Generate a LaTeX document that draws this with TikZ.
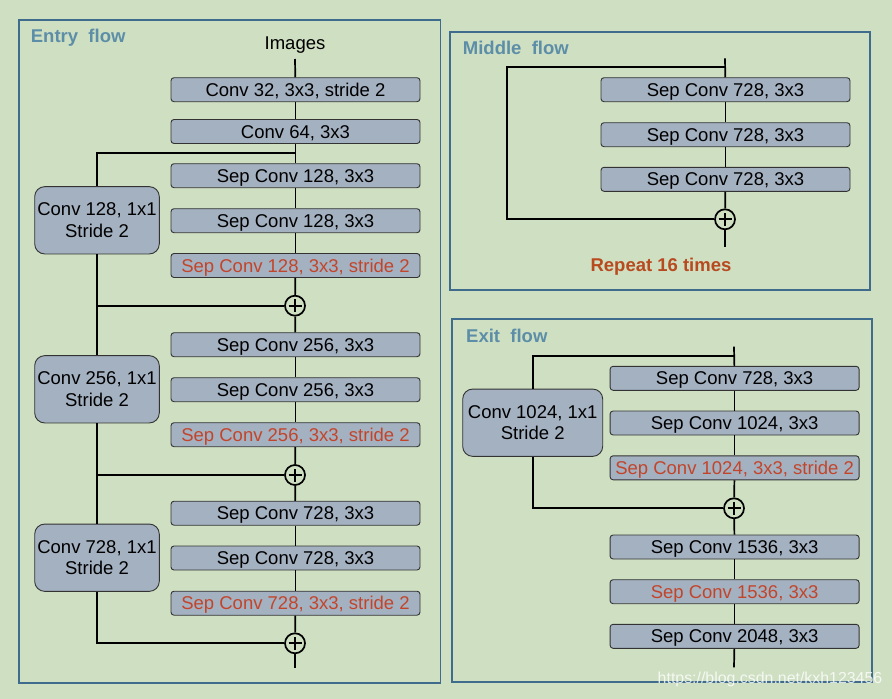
\documentclass[tikz,border=0pt]{standalone}
\usepackage{fontspec}
\setmainfont{Liberation Sans}
\definecolor{bg}{HTML}{CFDFC2}
\definecolor{boxfill}{HTML}{A4B1C1}
\definecolor{panelblue}{HTML}{3F6B8C}
\definecolor{labelblue}{HTML}{5D8EA8}
\definecolor{redtxt}{HTML}{C2452B}
\definecolor{reptxt}{HTML}{B84A20}
\begin{document}
\begin{tikzpicture}[x=1pt,y=-1pt,
  boxfont/.style={font=\fontsize{18.5}{21.5}\selectfont},
  layer/.style={boxfont, draw=black!80, fill=boxfill, rounded corners=3pt,
    minimum width=249pt, minimum height=24pt, inner sep=0pt,
    text height=13.2pt, text depth=0pt, line width=0.9pt},
  redlayer/.style={layer, text=redtxt},
  sidebox/.style={boxfont, draw=black!80, fill=boxfill, rounded corners=10pt,
    minimum width=124.6pt, minimum height=67.3pt, inner sep=0pt, align=center, line width=0.9pt},
  plus/.style={circle, draw, line width=1.7pt, minimum size=20pt, inner sep=0pt,
    path picture={\draw[line width=1.7pt] (path picture bounding box.center) ++(-6.5pt,0) -- ++(13pt,0)
      (path picture bounding box.center) ++(0,-6.5pt) -- ++(0,13pt);}},
  panel/.style={draw=panelblue, line width=1.8pt},
  flowlabel/.style={font=\fontsize{18.5}{21.5}\selectfont\bfseries, text=labelblue, anchor=base west, inner sep=0pt},
  conn/.style={line width=1.7pt}
]
\useasboundingbox (0,0) rectangle (892,699);
\fill[bg] (0,0) rectangle (892,699);

% ---------------- Entry flow ----------------
\draw[panel] (19,20) rectangle (440.5,682.7);
\node[flowlabel] (entrylbl) at (30.7,42.3) {Entry\ \ flow};
\node[boxfont, inner sep=0pt] (images) at (295,45) {Images};
\coordinate (etop) at (295,59);
\node[layer] (e1) at (295.5,89.7) {Conv 32, 3x3, stride 2};
\node[layer] (e2) at (295.5,131.5) {Conv 64, 3x3};
\node[layer] (e3) at (295.5,175.7) {Sep Conv 128, 3x3};
\node[layer] (e4) at (295.5,220.7) {Sep Conv 128, 3x3};
\node[redlayer] (e5) at (295.5,265.5) {Sep Conv 128, 3x3, stride 2};
\node[plus] (p1) at (295,305.7) {};
\node[layer] (e6) at (295.5,344.7) {Sep Conv 256, 3x3};
\node[layer] (e7) at (295.5,389.7) {Sep Conv 256, 3x3};
\node[redlayer] (e8) at (295.5,434.7) {Sep Conv 256, 3x3, stride 2};
\node[plus] (p2) at (295,475) {};
\node[layer] (e9) at (295.5,513.2) {Sep Conv 728, 3x3};
\node[layer] (e10) at (295.5,558) {Sep Conv 728, 3x3};
\node[redlayer] (e11) at (295.5,603.2) {Sep Conv 728, 3x3, stride 2};
\node[plus] (p3) at (295,643.3) {};
\coordinate (eend) at (295,668.3);

\node[sidebox] (s1) at (97,220.3) {Conv 128, 1x1\\Stride 2};
\node[sidebox] (s2) at (97,389.3) {Conv 256, 1x1\\Stride 2};
\node[sidebox] (s3) at (97,557.7) {Conv 728, 1x1\\Stride 2};

\coordinate (b1) at (295,153.3);
\coordinate (j1) at (97,305.7);
\coordinate (j2) at (97,475);
\coordinate (j3) at (97,643.3);

\draw[conn] (etop) -- (e1);
\draw[conn] (e1) -- (e2);
\draw[conn] (e2) -- (e3);
\draw[conn] (e3) -- (e4);
\draw[conn] (e4) -- (e5);
\draw[conn] (e5) -- (p1);
\draw[conn] (p1) -- (e6);
\draw[conn] (e6) -- (e7);
\draw[conn] (e7) -- (e8);
\draw[conn] (e8) -- (p2);
\draw[conn] (p2) -- (e9);
\draw[conn] (e9) -- (e10);
\draw[conn] (e10) -- (e11);
\draw[conn] (e11) -- (p3);
\draw[conn] (p3) -- (eend);

\draw[conn] (b1) -| (s1.north);
\draw[conn] (s1.south) -- (j1) -- (p1.west);
\draw[conn] (j1) -- (s2.north);
\draw[conn] (s2.south) -- (j2) -- (p2.west);
\draw[conn] (j2) -- (s3.north);
\draw[conn] (s3.south) -- (j3) -- (p3.west);

% ---------------- Middle flow ----------------
\draw[panel] (450,31.7) rectangle (870,290);
\node[flowlabel] (midlbl) at (462.7,54) {Middle\ \ flow};
\coordinate (mtop) at (725,58.3);
\coordinate (mb) at (725,67.3);
\coordinate (ml) at (507.3,67.3);
\node[layer] (m1) at (725.5,89.7) {Sep Conv 728, 3x3};
\node[layer] (m2) at (725.5,134.7) {Sep Conv 728, 3x3};
\node[layer] (m3) at (725.5,179.3) {Sep Conv 728, 3x3};
\node[plus] (pm) at (725,219.3) {};
\coordinate (mend) at (725,246.7);
\draw[conn] (mtop) -- (m1);
\draw[conn] (m1) -- (m2);
\draw[conn] (m2) -- (m3);
\draw[conn] (m3) -- (pm);
\draw[conn] (pm) -- (mend);
\draw[conn] (mb) -- (ml) |- (pm.west);
\node[font=\fontsize{18.5}{21.5}\selectfont\bfseries, text=reptxt, inner sep=0pt] (rep) at (661,266.7) {Repeat 16 times};

% ---------------- Exit flow ----------------
\draw[panel] (451.7,319) rectangle (871.7,682.3);
\node[flowlabel] (exitlbl) at (466,342.3) {Exit\ \ flow};
\coordinate (xtop) at (734,346.7);
\coordinate (xb) at (734,356);
\node[layer] (x1) at (734.6,378.3) {Sep Conv 728, 3x3};
\node[layer] (x2) at (734.6,423) {Sep Conv 1024, 3x3};
\node[redlayer] (x3) at (734.6,467.8) {Sep Conv 1024, 3x3, stride 2};
\node[plus] (px) at (734,508.3) {};
\node[layer] (x4) at (734.6,547) {Sep Conv 1536, 3x3};
\node[redlayer] (x5) at (734.6,591.7) {Sep Conv 1536, 3x3};
\node[layer] (x6) at (734.6,636.3) {Sep Conv 2048, 3x3};
\coordinate (xend) at (734,667.3);
\node[sidebox, minimum width=140pt] (sx) at (532.7,422.7) {Conv 1024, 1x1\\Stride 2};
\draw[conn] (xtop) -- (x1);
\draw[conn] (x1) -- (x2);
\draw[conn] (x2) -- (x3);
\draw[conn] (x3) -- (px);
\draw[conn] (px) -- (x4);
\draw[conn] (x4) -- (x5);
\draw[conn] (x5) -- (x6);
\draw[conn] (x6) -- (xend);
\draw[conn] (xb) -| (sx.north);
\draw[conn] (sx.south) |- (px.west);

% watermark
\node[font=\fontsize{15.9}{17}\selectfont, text=white, text opacity=0.8, inner sep=0pt] (wm) at (770,679.5) {https://blog.csdn.net/kxh123456};
\end{tikzpicture}
\end{document}
